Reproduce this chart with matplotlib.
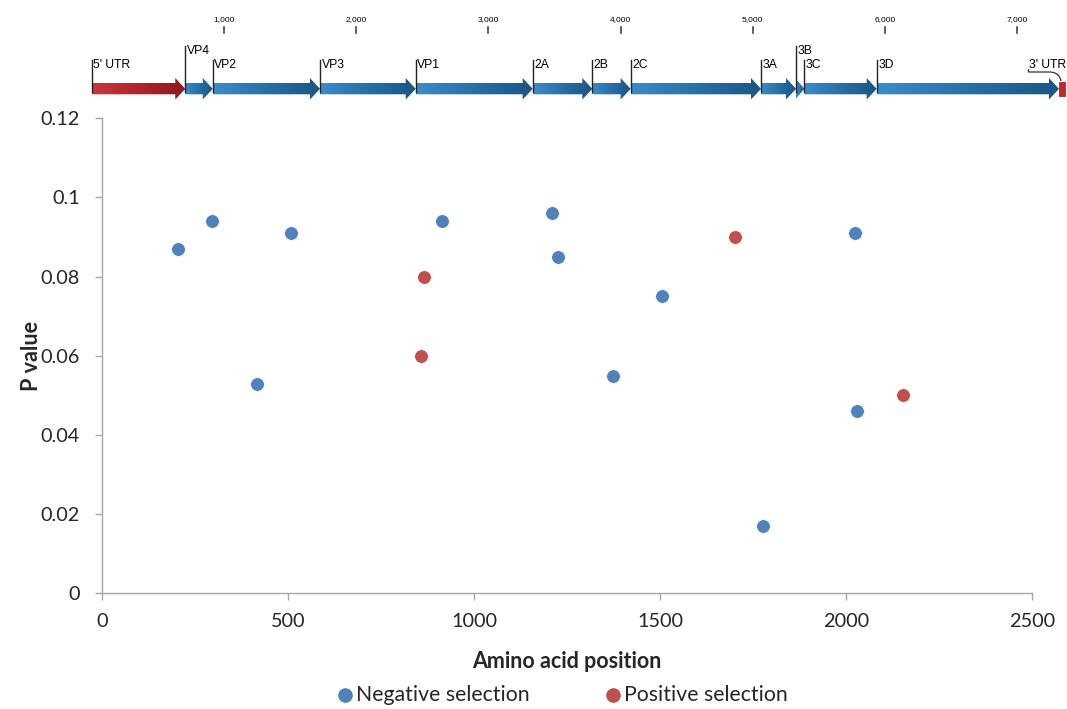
import numpy as np
import matplotlib
matplotlib.use("Agg")
import matplotlib.pyplot as plt
from matplotlib.patches import Polygon, Rectangle
from matplotlib.path import Path
from matplotlib.patches import PathPatch
from matplotlib.lines import Line2D
from matplotlib.colors import LinearSegmentedColormap

# ---------------- data ----------------
neg_pos = [204, 296, 508, 417, 914, 1210, 1226, 1374, 1505, 1777, 2024, 2030]
neg_p = [0.087, 0.094, 0.091, 0.053, 0.094, 0.096, 0.085, 0.055, 0.075, 0.017, 0.091, 0.046]
pos_pos = [866, 858, 1702, 2153]
pos_p = [0.080, 0.060, 0.090, 0.050]

x_ticks = [0, 500, 1000, 1500, 2000, 2500]
y_ticks = [0, 0.02, 0.04, 0.06, 0.08, 0.1, 0.12]
y_tick_labels = ["0", "0.02", "0.04", "0.06", "0.08", "0.1", "0.12"]

genes = ["5' UTR", "VP4", "VP2", "VP3", "VP1", "2A", "2B", "2C", "3A", "3B", "3C", "3D"]
gene_start = [1, 707, 915, 1726, 2450, 3335, 3786, 4076, 5062, 5327, 5390, 5937]
utr3_start, utr3_end = 7316, 7362
scale_ticks = [1000, 2000, 3000, 4000, 5000, 6000, 7000]
scale_labels = ["1,000", "2,000", "3,000", "4,000", "5,000", "6,000", "7,000"]
high_labels = ["VP4", "3B"]
legend_labels = ["Negative selection", "Positive selection"]

BLUE = "#4F81BD"
RED = "#C0504D"
AXC = "#A6A6A6"
TXT = "#262626"
FONT = ["Lato", "DejaVu Sans"]
MAPFONT = ["Liberation Sans", "DejaVu Sans"]

W, H = 1067, 709
fig = plt.figure(figsize=(W / 100, H / 100), dpi=100)
plt.rcParams['font.family'] = FONT

# ---------------- main scatter ----------------
l, r, t, b = 102, 1032, 118.3, 593.3
ax = fig.add_axes([l / W, 1 - b / H, (r - l) / W, (b - t) / H])
ax.scatter(neg_pos, neg_p, s=95, color=BLUE, edgecolors="white", linewidths=0.4, zorder=3)
ax.scatter(pos_pos, pos_p, s=95, color=RED, edgecolors="white", linewidths=0.4, zorder=3)
ax.set_xlim(0, 2500)
ax.set_ylim(0, 0.12)
ax.set_xticks(x_ticks)
ax.set_xticklabels([str(v) for v in x_ticks])
ax.set_yticks(y_ticks)
ax.set_yticklabels(y_tick_labels)
for s in ["top", "right"]:
    ax.spines[s].set_visible(False)
for s in ["left", "bottom"]:
    ax.spines[s].set_color(AXC)
    ax.spines[s].set_linewidth(1.0)
ax.tick_params(axis="both", colors=AXC, labelcolor=TXT, labelsize=14.3, length=5, width=1)
ax.tick_params(axis="x", pad=9)
ax.tick_params(axis="y", pad=11)
ax.set_xlabel("Amino acid position", fontsize=15.5, fontweight="bold", color=TXT, labelpad=15)
ax.set_ylabel("P value", fontsize=15.5, fontweight="bold", color=TXT, labelpad=-1)

# legend (manual, figure pixel coordinates)
for (mx, tx), c, lab in zip([(345, 356), (613, 624)], [BLUE, RED], legend_labels):
    fig.add_artist(Line2D([mx / W], [1 - 695 / H], marker="o", ls="", color=c,
                          markersize=9.5, transform=fig.transFigure))
    fig.text(tx / W, 1 - 695 / H, lab, fontsize=15.3, color=TXT, va="center", ha="left")

# ---------------- genome map ----------------
px0, ppn = 91.8, 0.1322  # pixel of nt 0, pixels per nt
gax = fig.add_axes([0, 1 - 105 / H, 1, 105 / H])
gax.set_xlim(-px0 / ppn, (W - px0) / ppn)
gax.set_ylim(105, 0)
gax.axis("off")

body_top, body_bot, head_top, head_bot = 83, 94.3, 78, 99.5
yc = (body_top + body_bot) / 2 + 0.2
hl = 10 / ppn

ends = gene_start[1:] + [utr3_start]

blue_cm = LinearSegmentedColormap.from_list("b", ["#3A8CC8", "#2670A8", "#1B5585"])
red_cm = LinearSegmentedColormap.from_list("r", ["#C9373B", "#B02429", "#8E1A1D"])

for i, (g, s0, e0) in enumerate(zip(genes, gene_start, ends)):
    if e0 - hl > s0:
        pts = [(s0, body_top), (e0 - hl, body_top), (e0 - hl, head_top), (e0, yc),
               (e0 - hl, head_bot), (e0 - hl, body_bot), (s0, body_bot)]
    else:
        pts = [(s0, head_top + 1), (e0, yc), (s0, head_bot - 1)]
    poly = Polygon(pts, closed=True, facecolor="none", edgecolor="none")
    gax.add_patch(poly)
    cm = red_cm if i == 0 else blue_cm
    grad = np.linspace(0, 1, 64).reshape(1, -1)
    im = gax.imshow(grad, cmap=cm, extent=(s0, e0, head_bot, head_top), aspect="auto",
                    interpolation="bilinear", zorder=2)
    im.set_clip_path(poly)
    ytop = 46 if g in high_labels else 60
    gax.plot([s0, s0], [ytop, 92], color="#222222", lw=1.0, zorder=4)
    gax.text(s0 + 1.5 / ppn, ytop - 1, g, fontsize=8.7, family=MAPFONT,
             va="top", ha="left", color="black", zorder=5)

# 3' UTR box
gax.add_patch(Rectangle((utr3_start, 81.5), utr3_end - utr3_start, 14, facecolor="#C0282D",
                        edgecolor="#8E1A1D", lw=0.5, zorder=3))
lab_x = utr3_start - 30 / ppn
gax.text(lab_x, 59, "3' UTR", fontsize=8.7, family=MAPFONT, va="top", ha="left", zorder=5)
verts = [(lab_x - 0.5 / ppn, 69), (lab_x - 0.5 / ppn, 72), (utr3_start - 10 / ppn, 72),
         (utr3_start - 2 / ppn, 72), (utr3_start + 1 / ppn, 76), (utr3_start + 2 / ppn, 81)]
codes = [Path.MOVETO, Path.LINETO, Path.LINETO, Path.CURVE4, Path.CURVE4, Path.CURVE4]
gax.add_patch(PathPatch(Path(verts, codes), facecolor="none", edgecolor="#333333", lw=0.9, zorder=4))

# scale
for v, lab in zip(scale_ticks, scale_labels):
    gax.plot([v, v], [27, 33], color="#333333", lw=1.1)
    gax.text(v, 23, lab, fontsize=6, family=MAPFONT, ha="center", va="bottom")

fig.savefig("out.png", dpi=100)
